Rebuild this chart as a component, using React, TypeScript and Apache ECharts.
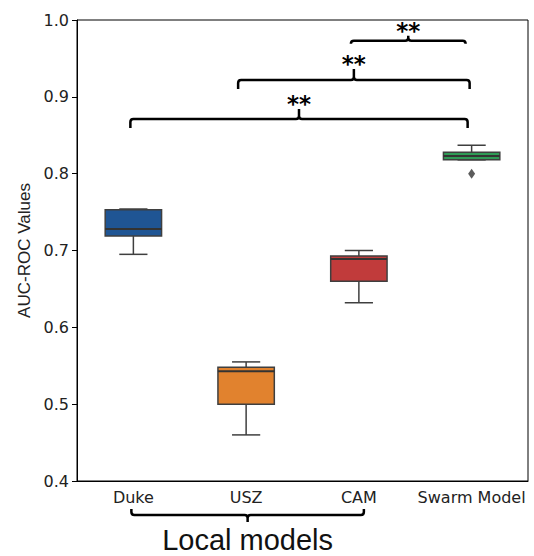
import React, { useEffect, useRef } from 'react';
import * as echarts from 'echarts';

// ---- data ----
const categories = ['Duke', 'USZ', 'CAM', 'Swarm Model'];
const whiskerLow = [0.695, 0.46, 0.632, 0.818];
const q1 = [0.719, 0.5, 0.66, 0.818];
const median = [0.728, 0.543, 0.689, 0.823];
const q3 = [0.753, 0.548, 0.693, 0.828];
const whiskerHigh = [0.754, 0.555, 0.7, 0.837];
const outlierCategory = [3];
const outlierValue = [0.8];
const yTicks = [0.4, 0.5, 0.6, 0.7, 0.8, 0.9, 1.0];
const bracketFrom = [0, 1, 2];
const bracketTo = [3, 3, 3];
const bracketLevel = [0.871, 0.922, 0.973];
const bracketLabels = ['**', '**', '**'];
const localGroup = [0, 2];
const localLabel = 'Local models';

// ---- styles ----
const boxColors = ['#1f5594', '#e1822e', '#c13b3b', '#2e9a55'];
const bracketStyle = [
  { dl: -3, dr: -4, hook: 9, tip: 10 },
  { dl: -8, dr: -2, hook: 9, tip: 11 },
  { dl: -8, dr: -6, hook: 3, tip: 5 },
];
const tickFont = '"DejaVu Sans", sans-serif';

export default function App() {
  const ref = useRef<HTMLDivElement>(null);
  useEffect(() => {
    if (!ref.current) return;
    const chart = echarts.init(ref.current, null, { renderer: 'svg' });
    const boxData = categories.map((_, i) => [i, whiskerLow[i], q1[i], median[i], q3[i], whiskerHigh[i]]);
    const bracketData = bracketFrom.map((f, i) => [f, bracketTo[i], bracketLevel[i]]);
    const outlierData = outlierCategory.map((c, i) => [c, outlierValue[i]]);
    const yMin = yTicks[0];
    const yMax = yTicks[yTicks.length - 1];

    chart.setOption({
      animation: false,
      grid: { left: 77, right: 6, top: 20, bottom: 75, show: true, borderColor: '#000', borderWidth: 1 },
      xAxis: {
        type: 'category',
        data: categories,
        boundaryGap: true,
        axisLine: { lineStyle: { color: '#000', width: 1 } },
        axisTick: { alignWithLabel: true, length: 5, lineStyle: { color: '#000' } },
        axisLabel: { color: '#222', fontSize: 16, fontFamily: tickFont, margin: 8, interval: 0 },
        splitLine: { show: false },
      },
      yAxis: {
        type: 'value',
        min: yMin,
        max: yMax,
        interval: 0.1,
        name: 'AUC-ROC Values',
        nameLocation: 'middle',
        nameGap: 44,
        nameTextStyle: { color: '#222', fontSize: 17, fontFamily: '"Liberation Sans", Arial, sans-serif' },
        axisLine: { show: true, lineStyle: { color: '#000', width: 1 } },
        axisTick: { show: true, length: 5, lineStyle: { color: '#000' } },
        axisLabel: {
          color: '#222', fontSize: 16, fontFamily: tickFont, margin: 8,
          formatter: (v: number) => v.toFixed(1),
        },
        splitLine: { show: false },
      },
      series: [
        {
          type: 'custom',
          data: boxData,
          encode: { x: 0, y: [1, 2, 3, 4, 5] },
          renderItem: (params: any, api: any) => {
            const i = params.dataIndex;
            const idx = api.value(0);
            const bw = api.size([1, 0])[0] * 0.5;
            const cw = bw * 0.5;
            const pLo = api.coord([idx, api.value(1)]);
            const pQ1 = api.coord([idx, api.value(2)]);
            const pMed = api.coord([idx, api.value(3)]);
            const pQ3 = api.coord([idx, api.value(4)]);
            const pHi = api.coord([idx, api.value(5)]);
            const x = pMed[0];
            const edge = '#3f3f3f';
            const ls = { stroke: edge, lineWidth: 1.5 };
            return {
              type: 'group',
              children: [
                { type: 'line', shape: { x1: x, y1: pQ3[1], x2: x, y2: pHi[1] }, style: ls },
                { type: 'line', shape: { x1: x, y1: pQ1[1], x2: x, y2: pLo[1] }, style: ls },
                { type: 'line', shape: { x1: x - cw / 2, y1: pHi[1], x2: x + cw / 2, y2: pHi[1] }, style: ls },
                { type: 'line', shape: { x1: x - cw / 2, y1: pLo[1], x2: x + cw / 2, y2: pLo[1] }, style: ls },
                {
                  type: 'rect',
                  shape: { x: x - bw / 2, y: pQ3[1], width: bw, height: pQ1[1] - pQ3[1] },
                  style: { fill: boxColors[i], stroke: edge, lineWidth: 1.5 },
                },
                { type: 'line', shape: { x1: x - bw / 2, y1: pMed[1], x2: x + bw / 2, y2: pMed[1] }, style: { stroke: '#333', lineWidth: 2 } },
              ],
            };
          },
          z: 3,
        },
        {
          type: 'scatter',
          data: outlierData,
          symbol: 'diamond',
          symbolSize: [7, 10],
          itemStyle: { color: '#333' },
          z: 4,
        },
        {
          type: 'custom',
          data: bracketData,
          clip: false,
          encode: { x: [0, 1], y: 2 },
          renderItem: (params: any, api: any) => {
            const i = params.dataIndex;
            const s = bracketStyle[i];
            const pL = api.coord([api.value(0), api.value(2)]);
            const pR = api.coord([api.value(1), api.value(2)]);
            const x1 = pL[0] + s.dl;
            const x2 = pR[0] + s.dr;
            const y = pL[1];
            const xc = (x1 + x2) / 2;
            const r = 3;
            const d =
              `M${x1},${y + s.hook} L${x1},${y + r} Q${x1},${y} ${x1 + r},${y} L${xc - r},${y} Q${xc},${y} ${xc},${y - r} L${xc},${y - s.tip} ` +
              `M${xc},${y - r} Q${xc},${y} ${xc + r},${y} L${x2 - r},${y} Q${x2},${y} ${x2},${y + r} L${x2},${y + s.hook}`;
            return {
              type: 'group',
              children: [
                { type: 'path', shape: { pathData: d }, style: { stroke: '#000', lineWidth: 2.5, fill: null } },
                {
                  type: 'text',
                  x: xc,
                  y: y - s.tip - 5,
                  style: {
                    text: bracketLabels[i], fill: '#000', fontSize: 23, fontWeight: 'bold',
                    fontFamily: '"DejaVu Sans", sans-serif', align: 'center', verticalAlign: 'middle',
                  },
                },
              ],
            };
          },
          z: 5,
        },
        {
          type: 'custom',
          data: [[localGroup[0], localGroup[1]]],
          clip: false,
          encode: { x: [0, 1] },
          renderItem: (params: any, api: any) => {
            const pL = api.coord([api.value(0), yMin]);
            const pR = api.coord([api.value(1), yMin]);
            const x1 = pL[0] - 2;
            const x2 = pR[0] + 5;
            const y = pL[1] + 34;
            const xc = (x1 + x2) / 2;
            const r = 3;
            const d =
              `M${x1},${y - 6} L${x1},${y - r} Q${x1},${y} ${x1 + r},${y} L${xc - r},${y} Q${xc},${y} ${xc},${y + r} L${xc},${y + 7} ` +
              `M${xc},${y + r} Q${xc},${y} ${xc + r},${y} L${x2 - r},${y} Q${x2},${y} ${x2},${y - r} L${x2},${y - 6}`;
            return {
              type: 'group',
              children: [
                { type: 'path', shape: { pathData: d }, style: { stroke: '#000', lineWidth: 2.5, fill: null } },
                {
                  type: 'text',
                  x: xc,
                  y: y + 25,
                  style: {
                    text: localLabel, fill: '#111', fontSize: 29,
                    fontFamily: '"Liberation Sans", Arial, sans-serif', align: 'center', verticalAlign: 'middle',
                  },
                },
              ],
            };
          },
          z: 5,
        },
      ],
    });
    return () => chart.dispose();
  }, []);
  return <div ref={ref} style={{ position: 'absolute', left: 0, top: 0, width: 534, height: 556 }} />;
}
